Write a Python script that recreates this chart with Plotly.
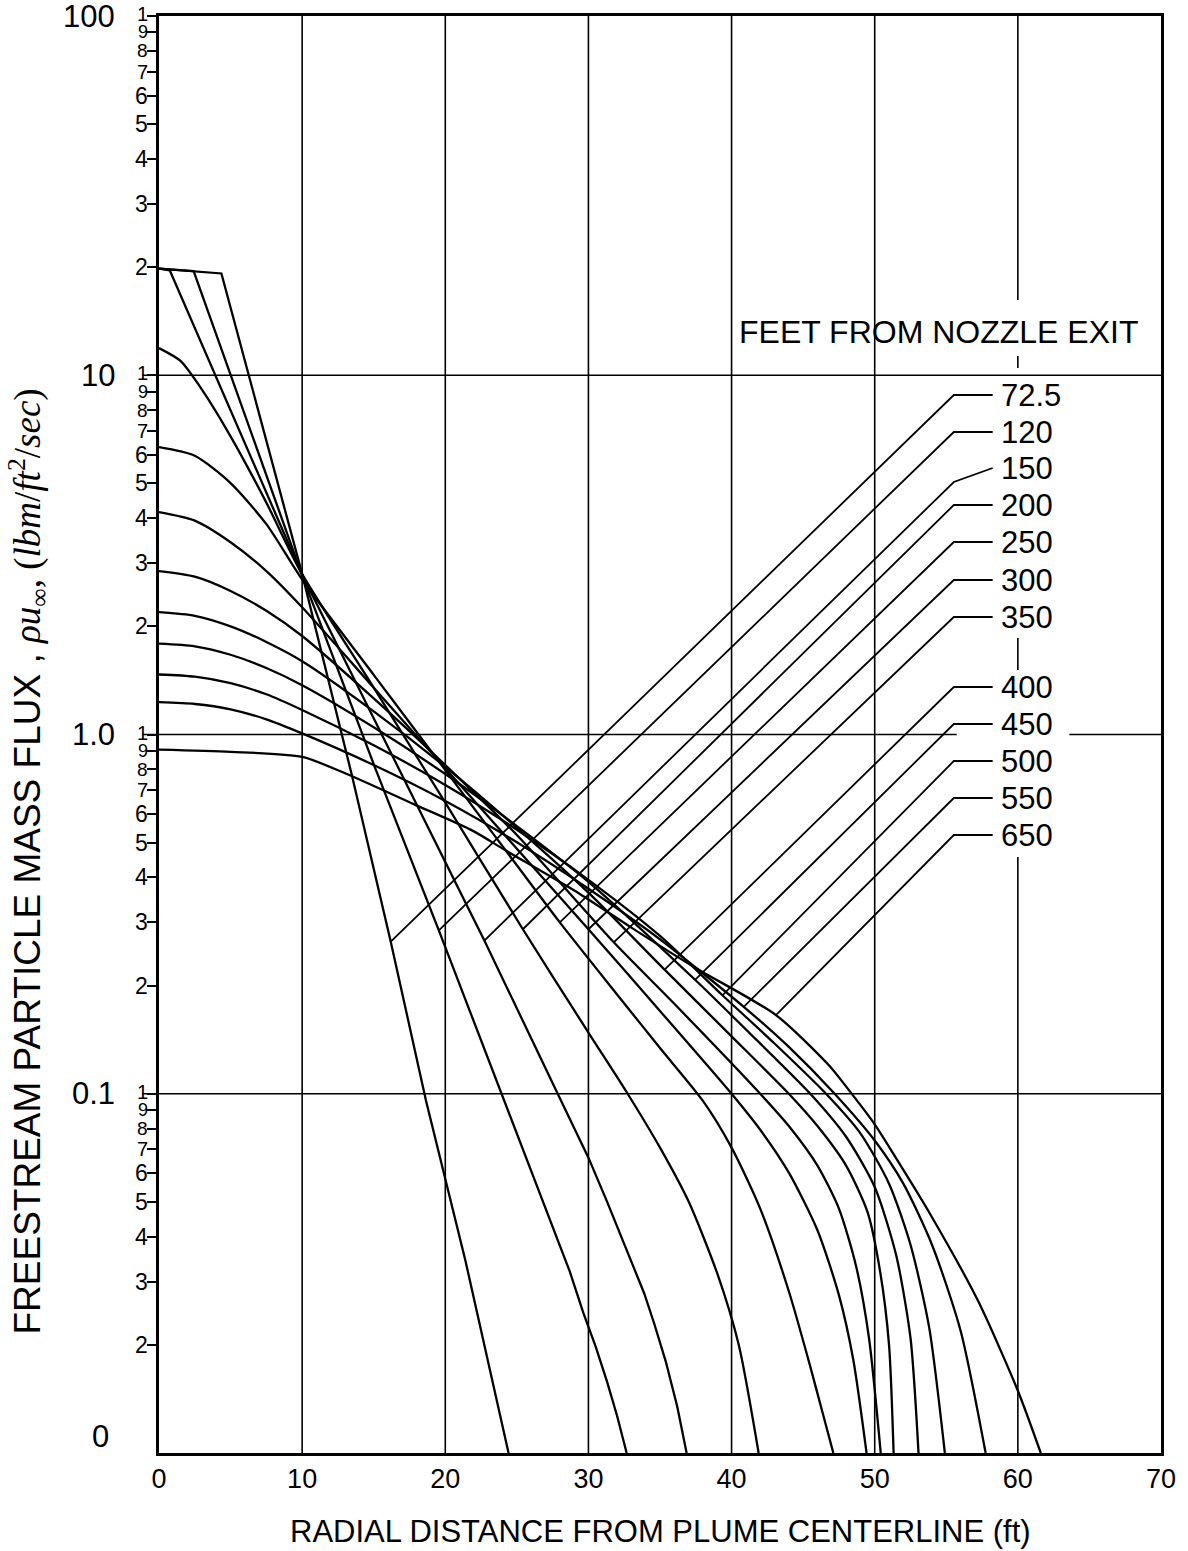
import numpy as np
import plotly.graph_objects as go

# ---------------- data ----------------
# radial distance from plume centerline (ft)  /  particle mass flux (lbm/ft^2/sec)
series_names = ["72.5", "120", "150", "200", "250", "300", "350", "400", "450", "500", "550", "650"]

x_072 = [0, 4.36, 10.0, 13.5, 16.19, 18.65, 21.4, 22.8, 24.42]
y_072 = [19.8, 19.2, 2.8, 0.763, 0.265, 0.0958, 0.0344, 0.0193, 0.01]

x_120 = [0, 2.42, 9.9, 15.07, 19.55, 24.13, 26.0, 27.5, 28.7, 29.65, 30.5, 31.3, 32.0, 32.67]
y_120 = [19.8, 19.5, 2.84, 0.813, 0.285, 0.0958, 0.061, 0.043, 0.032, 0.0245, 0.0198, 0.0158, 0.0127, 0.01]

x_150 = [0, 0.75, 9.9, 16.3, 22.73, 28.08, 30.0, 31.3, 32.7, 33.9, 34.6, 35.4, 36.2, 36.86]
y_150 = [19.8, 19.6, 2.84, 0.87, 0.267, 0.0958, 0.0664, 0.0501, 0.0366, 0.0278, 0.0229, 0.018, 0.0135, 0.01]

x_200 = [0, 1.5, 3, 5, 7.5, 9.9, 15, 20, 25.42, 30, 32.74, 35, 37, 39, 40.5, 41.89]
y_200 = [11.9, 10.96, 9.12, 6.76, 4.42, 2.84, 1.35, 0.646, 0.287, 0.148, 0.1, 0.0708, 0.0501, 0.0316, 0.02, 0.01]

x_250 = [0, 2.5, 5, 7.5, 10, 15, 20, 25, 28, 32, 35, 38, 40, 42, 44, 45.5, 47.11]
y_250 = [6.31, 5.97, 5.01, 3.85, 2.70, 1.466, 0.796, 0.4325, 0.300, 0.189, 0.134, 0.0955, 0.0708, 0.0479, 0.0282, 0.0174, 0.01]

x_300 = [0, 2.5, 5, 7.5, 10, 15, 20, 25, 30, 35, 40, 42, 44, 46, 47.5, 48.5, 49.43]
y_300 = [4.16, 3.94, 3.43, 2.85, 2.26, 1.35, 0.805, 0.481, 0.287, 0.170, 0.1, 0.0794, 0.0603, 0.0417, 0.0275, 0.0182, 0.01]

x_350 = [0, 2.5, 5, 7.5, 10, 15, 20, 25, 31.77, 36, 42, 44, 46, 47.5, 48.7, 49.6, 50.42]
y_350 = [2.85, 2.75, 2.51, 2.21, 1.88, 1.26, 0.822, 0.525, 0.264, 0.178, 0.1, 0.0813, 0.0631, 0.0479, 0.0331, 0.0209, 0.01]

x_400 = [0, 2.5, 5, 7.5, 10, 15, 20, 25, 30, 35.32, 40, 44, 46, 48, 49.5, 50.4, 51.0, 51.32]
y_400 = [2.19, 2.14, 2.0, 1.81, 1.60, 1.16, 0.813, 0.55, 0.363, 0.2215, 0.1445, 0.1, 0.0813, 0.0631, 0.0468, 0.0316, 0.02, 0.01]

x_450 = [0, 2.5, 5, 7.5, 10, 15, 20, 25, 30, 37.45, 41, 45.5, 48, 50, 51.5, 52.5, 53.06]
y_450 = [1.79, 1.76, 1.667, 1.531, 1.371, 1.047, 0.776, 0.556, 0.389, 0.2076, 0.151, 0.1, 0.0759, 0.055, 0.0355, 0.0209, 0.01]

x_500 = [0, 2.5, 5, 7.5, 10, 15, 20, 25, 30, 35, 39.36, 43, 46.6, 49, 51, 52.5, 53.8, 54.9]
y_500 = [1.469, 1.449, 1.39, 1.294, 1.17, 0.933, 0.724, 0.543, 0.394, 0.275, 0.188, 0.138, 0.1, 0.0776, 0.0562, 0.038, 0.0224, 0.01]

x_550 = [0, 2.5, 5, 7.5, 10, 15, 20, 25, 30, 35, 40.85, 44, 47.2, 50, 52, 54, 56, 57.75]
y_550 = [1.23, 1.216, 1.175, 1.102, 1.007, 0.822, 0.653, 0.501, 0.372, 0.269, 0.1746, 0.135, 0.1, 0.0741, 0.0562, 0.038, 0.0219, 0.01]

x_650 = [0, 5, 10, 13, 17.8, 21.9, 24.2, 29.4, 33, 37.4, 43.1, 46.8, 48.1, 50, 51.5, 53.8, 57.2, 60, 61.6]
y_650 = [0.908, 0.895, 0.866, 0.78, 0.64, 0.54, 0.476, 0.36, 0.29, 0.225, 0.1656, 0.120, 0.1035, 0.0822, 0.0661, 0.0468, 0.0266, 0.0149, 0.01]

curves_x = [x_072, x_120, x_150, x_200, x_250, x_300, x_350, x_400, x_450, x_500, x_550, x_650]
curves_y = [y_072, y_120, y_150, y_200, y_250, y_300, y_350, y_400, y_450, y_500, y_550, y_650]

# point on each curve where its label's leader line ends
leader_end_x = [16.19, 19.55, 22.73, 25.42, 28.0, 30.0, 31.77, 35.32, 37.45, 39.36, 40.85, 43.1]
leader_end_y = [0.265, 0.285, 0.267, 0.287, 0.300, 0.287, 0.264, 0.2215, 0.2076, 0.188, 0.1746, 0.1656]

x_ticks = [0, 10, 20, 30, 40, 50, 60, 70]
x_ticktext = ["0", "10", "20", "30", "40", "50", "60", "70"]
decade_labels = ["100", "10", "1.0", "0.1", "0"]
decade_values = [100, 10, 1, 0.1, 0.01]
minor_digits = ["2", "3", "4", "5", "6", "7", "8", "9", "1"]

# ---------------- layout / style ----------------
W, H = 1188, 1551
ML, MR, MT, MB = 159, 23, 16, 98
XMIN, XMAX = 0, 70
YMIN, YMAX = -2, 2          # log10 range of the y axis
FONT = "Liberation Sans, Arial, sans-serif"
PW, PH = W - ML - MR, H - MT - MB

def pix_to_yval(py):        # vertical pixel position -> value on the log axis
    return 10 ** (YMAX - (py - MT) / PH * (YMAX - YMIN))

def pix_to_xval(px):
    return XMIN + (px - ML) / PW * (XMAX - XMIN)

def ypaper(v):
    return (np.log10(v) - YMIN) / (YMAX - YMIN)

def xpaper(x):
    return (x - XMIN) / (XMAX - XMIN)

fig = go.Figure()

for i, name in enumerate(series_names):
    # the three nearest stations have a sharp corner where they leave the flat top
    shape = "linear" if i < 3 else "spline"
    fig.add_trace(go.Scatter(
        x=curves_x[i], y=curves_y[i], mode="lines", name=name,
        line=dict(color="black", width=2.3, shape=shape, smoothing=0.7),
        showlegend=False, hoverinfo="skip"))

# leader lines from the labels down to the curves
label_pix_y = [395, 432, 468, 505, 542, 580, 617, 687, 724, 761, 798, 835]
leader_kink = [0, 0, 14, 0, 0, 0, 0, 0, 0, 0, 0, 0]
lx0, lx1, ltext = pix_to_xval(957), pix_to_xval(996), pix_to_xval(1002)
for i, name in enumerate(series_names):
    ly = pix_to_yval(label_pix_y[i])
    ly0 = pix_to_yval(label_pix_y[i] + leader_kink[i])
    fig.add_trace(go.Scatter(
        x=[lx1, lx0, leader_end_x[i]], y=[ly, ly0, leader_end_y[i]],
        mode="lines", line=dict(color="black", width=1.8),
        showlegend=False, hoverinfo="skip"))
    fig.add_annotation(x=ltext, y=np.log10(ly), xref="x", yref="y",
                       text=name, showarrow=False, xanchor="left", yanchor="middle",
                       font=dict(family=FONT, size=31, color="black"))

shapes = []
gl = dict(color="black", width=1.6)
for xv in [10, 20, 30, 40, 50]:
    shapes.append(dict(type="line", xref="x", yref="paper", x0=xv, x1=xv, y0=0, y1=1, line=gl, layer="below"))
# grid line at 60 is broken around the label block
for (a, b) in [(300, MT), (356, 368), (638, 670), (857, MT + PH)]:
    shapes.append(dict(type="line", xref="x", yref="paper", x0=60, x1=60,
                       y0=ypaper(pix_to_yval(a)), y1=ypaper(pix_to_yval(b)), line=gl, layer="below"))
ext = -17 / PW
for yv in [10, 0.1]:
    shapes.append(dict(type="line", xref="paper", yref="paper", x0=ext, x1=1,
                       y0=ypaper(yv), y1=ypaper(yv), line=gl, layer="below"))
shapes.append(dict(type="line", xref="paper", yref="paper", x0=ext, x1=xpaper(pix_to_xval(960)),
                   y0=ypaper(1), y1=ypaper(1), line=gl, layer="below"))
shapes.append(dict(type="line", xref="paper", yref="paper", x0=xpaper(pix_to_xval(1073)), x1=1,
                   y0=ypaper(1), y1=ypaper(1), line=gl, layer="below"))
fig.update_layout(shapes=shapes)

# y axis: tick marks at 1..9 of every decade, digits drawn as annotations
tickvals, tickdig = [], []
for dec in [0.01, 0.1, 1, 10]:
    for j, d in enumerate(minor_digits):
        tickvals.append(dec * (j + 2))
        tickdig.append(d)
digit_size = {"1": 20, "9": 18, "8": 19, "7": 20}
for v, d in zip(tickvals, tickdig):
    fig.add_annotation(x=-9.5 / PW, y=np.log10(v), xref="paper", yref="y", text=d,
                       showarrow=False, xanchor="right", yanchor="middle",
                       yshift=2 if d == "1" else 0,
                       font=dict(family=FONT, size=digit_size.get(d, 23), color="black"))

fig.update_xaxes(range=[XMIN, XMAX], tickmode="array", tickvals=x_ticks, ticktext=x_ticktext,
                 showgrid=False, zeroline=False, showline=True, mirror=True,
                 linecolor="black", linewidth=2.5, ticks="",
                 tickfont=dict(family=FONT, size=27, color="black"))
fig.update_yaxes(type="log", range=[YMIN, YMAX], tickmode="array", tickvals=tickvals,
                 showticklabels=False,
                 showgrid=False, zeroline=False, showline=True, mirror=True,
                 linecolor="black", linewidth=2.5, ticks="outside", ticklen=9, tickwidth=1.6,
                 tickcolor="black")

for lab, v in zip(decade_labels, decade_values):
    if lab == "0":
        fig.add_annotation(x=(100 - ML) / PW, y=np.log10(v), xref="paper", yref="y", text=lab,
                           showarrow=False, xanchor="center", yanchor="middle", yshift=17,
                           font=dict(family=FONT, size=31, color="black"))
    else:
        fig.add_annotation(x=(117 - ML) / PW, y=np.log10(v), xref="paper", yref="y", text=lab,
                           showarrow=False, xanchor="right", yanchor="middle",
                           font=dict(family=FONT, size=31, color="black"))

fig.add_annotation(x=pix_to_xval(942), y=np.log10(pix_to_yval(332)), xref="x", yref="y",
                   text="FEET FROM NOZZLE EXIT", showarrow=False, xanchor="center", yanchor="middle",
                   font=dict(family=FONT, size=32, color="black"))

fig.add_annotation(x=0.5, y=1 - (1531 - MT) / PH, xref="paper", yref="paper",
                   text="RADIAL DISTANCE FROM PLUME CENTERLINE (ft)", showarrow=False,
                   xanchor="center", yanchor="middle", font=dict(family=FONT, size=31, color="black"))

fig.add_annotation(x=(27 - ML) / PW, y=1 - (862 - MT) / PH, xref="paper", yref="paper", textangle=-90,
                   text=("FREESTREAM PARTICLE MASS FLUX , "
                         "<span style='font-family:Liberation Serif'><i>\u03c1u</i><sub>\u221e</sub>, "
                         "(<i>lbm</i>/<i>ft</i><sup>2</sup>/<i>sec</i>)</span>"),
                   showarrow=False, xanchor="center", yanchor="middle",
                   font=dict(family=FONT, size=37, color="black"))

fig.update_layout(width=W, height=H, margin=dict(l=ML, r=MR, t=MT, b=MB, pad=0),
                  plot_bgcolor="white", paper_bgcolor="white", showlegend=False)

fig.write_html("out.html", config={"displayModeBar": False},
               post_script="document.body.style.margin='0px';document.body.style.padding='0px';")
